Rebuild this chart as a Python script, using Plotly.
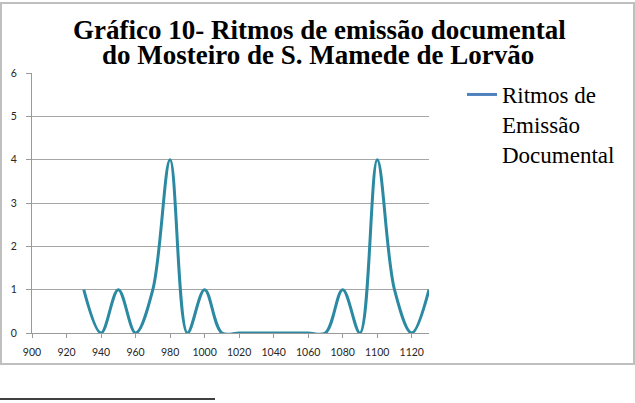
import plotly.graph_objects as go

# Data
years = [930, 940, 950, 960, 970, 980, 990, 1000, 1010, 1020, 1030, 1040,
         1050, 1060, 1070, 1080, 1090, 1100, 1110, 1120, 1130]
values = [1, 0, 1, 0, 1, 4, 0, 1, 0, 0, 0, 0,
          0, 0, 0, 1, 0, 4, 1, 0, 1]
series_name = "Ritmos de<br>Emissão<br>Documental"
title_line1 = "Gráfico 10- Ritmos de emissão documental"
title_line2 = "do Mosteiro de S. Mamede de Lorvão"
x_ticks = list(range(900, 1121, 20))
y_ticks = [0, 1, 2, 3, 4, 5, 6]

W, H = 635, 403
L, R, T, B = 32, 206, 73, 70
pw, ph = W - L - R, H - T - B


def px_x(p):
    return (p - L) / pw


def px_y(p):
    return (H - B - p) / ph


serif = "Liberation Serif"

fig = go.Figure()
# the curve itself
fig.add_trace(go.Scatter(
    x=years, y=values, mode="lines", name=series_name, showlegend=False,
    line=dict(color="#2B8AA2", width=3, shape="spline", smoothing=1.0),
))
# legend key (the reference draws its key in a different blue)
fig.add_trace(go.Scatter(
    x=[None], y=[None], mode="lines", name=series_name, showlegend=True,
    line=dict(color="#4F81BD", width=3),
))

axis_font = dict(family="Lato", size=10.5, color="#262626")
fig.update_layout(
    width=W, height=H,
    margin=dict(l=L, r=R, t=T, b=B, autoexpand=False),
    paper_bgcolor="white", plot_bgcolor="white",
    font=dict(family=serif, color="black"),
    showlegend=True,
    legend=dict(
        x=px_x(462), y=px_y(73), xanchor="left", yanchor="top",
        valign="top",
        font=dict(family=serif, size=23, color="black"),
        bgcolor="rgba(0,0,0,0)", borderwidth=0,
    ),
    xaxis=dict(
        range=[900, 1130], tickvals=x_ticks, ticktext=[str(v) for v in x_ticks],
        showgrid=False, zeroline=False, showline=True, linecolor="#9A9A9A",
        linewidth=1, ticks="outside", ticklen=4, tickcolor="#9A9A9A",
        tickfont=axis_font, ticklabelstandoff=5, automargin=False,
    ),
    yaxis=dict(
        range=[0, 6], tickvals=y_ticks, showgrid=True, gridcolor="#A6A6A6",
        gridwidth=1, zeroline=False, showline=True, linecolor="#9A9A9A",
        linewidth=1, ticks="outside", ticklen=5, tickcolor="#9A9A9A",
        tickfont=axis_font, ticklabelstandoff=7, automargin=False,
    ),
    annotations=[
        dict(text="<b>" + title_line1 + "</b>", xref="paper", yref="paper",
             x=px_x(319), y=px_y(30), xanchor="center", yanchor="middle",
             showarrow=False,
             font=dict(family=serif, size=27, color="black")),
        dict(text="<b>" + title_line2 + "</b>", xref="paper", yref="paper",
             x=px_x(318), y=px_y(55), xanchor="center", yanchor="middle",
             showarrow=False,
             font=dict(family=serif, size=27, color="black")),
    ],
    shapes=[
        dict(type="rect", xref="paper", yref="paper",
             x0=px_x(1), x1=px_x(634), y0=px_y(364), y1=px_y(3),
             line=dict(color="#BFBFBF", width=2), layer="below"),
        dict(type="line", xref="paper", yref="paper",
             x0=px_x(0), x1=px_x(215), y0=px_y(399), y1=px_y(399),
             line=dict(color="black", width=1.5)),
    ],
)

fig.write_html("out.html")
